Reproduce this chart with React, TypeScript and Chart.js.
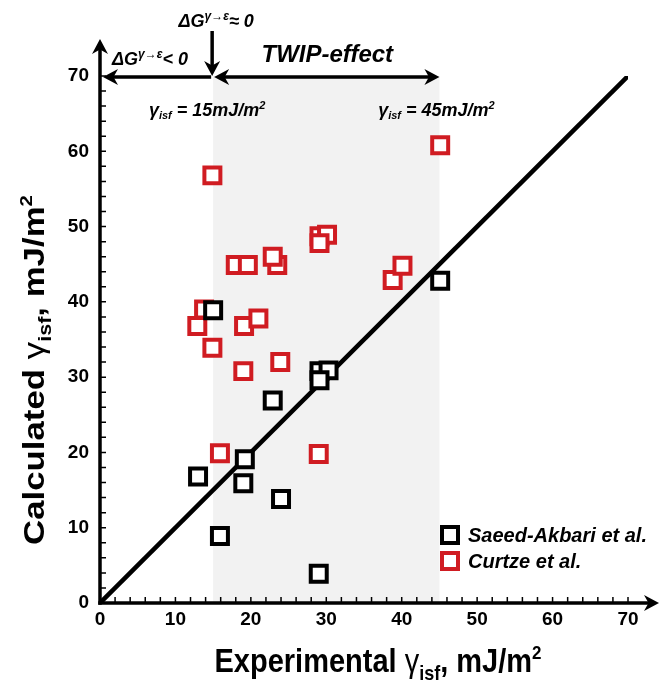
import React, { useEffect, useRef } from 'react';
import { Chart, registerables } from 'chart.js';

Chart.register(...registerables);

// ---- data ----
const seriesNames = ['Saeed-Akbari et al.', 'Curtze et al.'];
const saeedX = [15, 13, 19.2, 19, 15.9, 24, 22.9, 29.1, 30.3, 29.1, 29, 45.1];
const saeedY = [38.9, 16.8, 19.1, 15.9, 8.9, 13.8, 26.9, 30.8, 30.9, 29.6, 3.9, 42.8];
const curtzeX = [14.9, 45.1, 12.9, 13.8, 14.9, 19.1, 21, 19, 23.9, 15.9, 29, 29.1, 30.1, 29.1, 38.8, 40.1, 18, 19.6, 23.5, 22.9];
const curtzeY = [56.8, 60.8, 36.8, 39, 33.9, 36.8, 37.8, 30.8, 32, 19.9, 19.8, 48.7, 48.9, 47.8, 42.9, 44.8, 44.9, 44.9, 44.9, 46];
const idealX = [0, 70];
const idealY = [0, 70];
const axisMin = 0;
const axisMax = 70;
const majorStep = 10;
const minorStep = 2;
const twipRange = [15, 45];

const FONT = "Arial, 'Liberation Sans', Helvetica, sans-serif";
const RED = '#d01c22';

type Seg = { t: string; size: number; style: string; dy?: number };

function richWidth(ctx: CanvasRenderingContext2D, segs: Seg[]) {
  let w = 0;
  for (const s of segs) {
    ctx.font = `${s.style} ${s.size}px ${FONT}`;
    w += ctx.measureText(s.t).width;
  }
  return w;
}

function drawRich(ctx: CanvasRenderingContext2D, segs: Seg[], x: number, y: number, align: 'left' | 'center') {
  const total = richWidth(ctx, segs);
  let cx = align === 'center' ? x - total / 2 : x;
  ctx.textAlign = 'left';
  ctx.textBaseline = 'alphabetic';
  for (const s of segs) {
    ctx.font = `${s.style} ${s.size}px ${FONT}`;
    ctx.fillText(s.t, cx, y + (s.dy || 0));
    cx += ctx.measureText(s.t).width;
  }
}

function arrowHead(ctx: CanvasRenderingContext2D, x: number, y: number, angle: number, len = 15, half = 8) {
  ctx.save();
  ctx.translate(x, y);
  ctx.rotate(angle);
  ctx.beginPath();
  ctx.moveTo(0, 0);
  ctx.lineTo(-len, -half);
  ctx.lineTo(-len * 0.7, 0);
  ctx.lineTo(-len, half);
  ctx.closePath();
  ctx.fill();
  ctx.restore();
}

const decor = {
  id: 'decor',
  beforeDatasetsDraw(chart: any) {
    const ctx = chart.ctx as CanvasRenderingContext2D;
    const xs = chart.scales.x;
    const ys = chart.scales.y;
    ctx.save();
    ctx.fillStyle = '#f2f2f2';
    const x1 = xs.getPixelForValue(twipRange[0]);
    const x2 = xs.getPixelForValue(twipRange[1]);
    const yt = ys.getPixelForValue(axisMax);
    const yb = ys.getPixelForValue(axisMin);
    ctx.fillRect(x1, yt, x2 - x1, yb - yt);
    ctx.restore();
  },
  afterDatasetsDraw(chart: any) {
    const ctx = chart.ctx as CanvasRenderingContext2D;
    const xs = chart.scales.x;
    const ys = chart.scales.y;
    const x0 = xs.getPixelForValue(axisMin);
    const y0 = ys.getPixelForValue(axisMin);
    const yTop = ys.getPixelForValue(axisMax);
    ctx.save();
    ctx.strokeStyle = '#000';
    ctx.fillStyle = '#000';
    // axes
    ctx.lineWidth = 3.5;
    ctx.beginPath();
    ctx.moveTo(x0, y0 + 1.75);
    ctx.lineTo(x0, yTop - 28);
    ctx.stroke();
    arrowHead(ctx, x0, yTop - 37, -Math.PI / 2);
    ctx.beginPath();
    ctx.moveTo(x0 - 1.75, y0);
    ctx.lineTo(xs.right + 22, y0);
    ctx.stroke();
    arrowHead(ctx, xs.right + 31, y0, 0);
    // minor ticks
    ctx.lineWidth = 1.5;
    ctx.beginPath();
    for (let v = axisMin + minorStep; v <= axisMax + 0.01; v += minorStep) {
      const px = xs.getPixelForValue(v);
      ctx.moveTo(px, y0);
      ctx.lineTo(px, y0 - 6);
      const py = ys.getPixelForValue(v);
      ctx.moveTo(x0, py);
      ctx.lineTo(x0 + 6, py);
    }
    ctx.stroke();

    // annotation arrows at top
    ctx.lineWidth = 3.5;
    const xa = xs.getPixelForValue(twipRange[0]);
    const xb = xs.getPixelForValue(twipRange[1]);
    const ya = yTop + 1;
    ctx.beginPath();
    ctx.moveTo(x0 + 12, ya);
    ctx.lineTo(xa - 2, ya);
    ctx.moveTo(xa + 10, ya);
    ctx.lineTo(xb - 10, ya);
    ctx.stroke();
    arrowHead(ctx, x0 + 3, ya, Math.PI);
    arrowHead(ctx, xa + 1, ya, Math.PI);
    arrowHead(ctx, xb, ya, 0);
    ctx.beginPath();
    ctx.moveTo(xa - 1, 31);
    ctx.lineTo(xa - 1, ya - 10);
    ctx.stroke();
    arrowHead(ctx, xa - 1, ya - 1, Math.PI / 2);

    // annotation texts
    const bi = 'italic bold';
    drawRich(ctx, [
      { t: 'ΔG', size: 18, style: bi },
      { t: 'γ→ε', size: 12, style: bi, dy: -7 },
      { t: '≈ 0', size: 18, style: bi },
    ], xa + 3, 27, 'center');
    drawRich(ctx, [
      { t: 'ΔG', size: 18, style: bi },
      { t: 'γ→ε', size: 12, style: bi, dy: -7 },
      { t: '< 0', size: 18, style: bi },
    ], x0 + 12, 65, 'left');
    drawRich(ctx, [{ t: 'TWIP-effect', size: 24, style: bi }], (xa + xb) / 2 + 1, 62, 'center');
    drawRich(ctx, [
      { t: 'γ', size: 18, style: bi },
      { t: 'isf', size: 11, style: bi, dy: 3 },
      { t: ' = 15mJ/m', size: 18, style: bi },
      { t: '2', size: 11, style: bi, dy: -7 },
    ], xa - 6, 116, 'center');
    drawRich(ctx, [
      { t: 'γ', size: 18, style: bi },
      { t: 'isf', size: 11, style: bi, dy: 3 },
      { t: ' = 45mJ/m', size: 18, style: bi },
      { t: '2', size: 11, style: bi, dy: -7 },
    ], xb - 3, 116, 'center');

    // axis titles
    const titleSegs = (first: string): Seg[] => [
      { t: first + ' ', size: 29, style: 'bold' },
      { t: 'γ', size: 29, style: 'normal' },
      { t: 'isf', size: 18, style: 'bold', dy: 7 },
      { t: ', mJ/m', size: 29, style: 'bold' },
      { t: '2', size: 17, style: 'bold', dy: -12 },
    ];
    ctx.save();
    ctx.translate(378, 672);
    ctx.scale(1, 1.12);
    drawRich(ctx, titleSegs('Experimental'), 0, 0, 'center');
    ctx.restore();
    ctx.save();
    ctx.translate(44, 370);
    ctx.rotate(-Math.PI / 2);
    ctx.scale(1.2, 1);
    drawRich(ctx, titleSegs('Calculated'), 0, 0, 'center');
    ctx.restore();

    // legend
    const lx = 450;
    const ly = [535, 561];
    const cols = ['#000', RED];
    ctx.lineWidth = 4;
    for (let i = 0; i < 2; i++) {
      ctx.fillStyle = '#fff';
      ctx.strokeStyle = cols[i];
      ctx.fillRect(lx - 8, ly[i] - 8, 16, 16);
      ctx.strokeRect(lx - 8, ly[i] - 8, 16, 16);
      ctx.fillStyle = '#000';
      ctx.font = `italic bold 20px ${FONT}`;
      ctx.textAlign = 'left';
      ctx.textBaseline = 'middle';
      ctx.fillText(seriesNames[i], lx + 18, ly[i] + 1);
    }
    ctx.restore();
  },
};

export default function App() {
  const ref = useRef<HTMLCanvasElement | null>(null);
  useEffect(() => {
    if (!ref.current) return;
    const tickFont = { family: FONT, size: 19, weight: 'bold' as const };
    const chart = new Chart(ref.current, {
      type: 'scatter',
      data: {
        datasets: [
          {
            label: seriesNames[0],
            data: saeedX.map((x, i) => ({ x, y: saeedY[i] })),
            pointStyle: 'rect',
            pointRadius: 11.3,
            borderWidth: 4,
            borderColor: '#000',
            backgroundColor: '#fff',
            order: 0,
          },
          {
            label: seriesNames[1],
            data: curtzeX.map((x, i) => ({ x, y: curtzeY[i] })),
            pointStyle: 'rect',
            pointRadius: 11.3,
            borderWidth: 4,
            borderColor: RED,
            backgroundColor: '#fff',
            order: 1,
          },
          {
            type: 'line',
            label: 'y = x',
            data: idealX.map((x, i) => ({ x, y: idealY[i] })),
            showLine: true,
            borderColor: '#000',
            borderWidth: 4.5,
            pointRadius: 0,
            order: 2,
          } as any,
        ],
      },
      options: {
        animation: false,
        responsive: false,
        events: [],
        layout: { padding: { top: 76, right: 32, left: 0, bottom: 0 } },
        plugins: { legend: { display: false }, tooltip: { enabled: false } },
        scales: {
          x: {
            type: 'linear',
            min: axisMin,
            max: axisMax,
            ticks: { stepSize: majorStep, font: tickFont, color: '#000', padding: 5, maxRotation: 0 },
            grid: { display: false, drawTicks: false, tickLength: 0 },
            border: { display: false },
            afterFit: (s: any) => { s.height = 81; },
          },
          y: {
            type: 'linear',
            min: axisMin,
            max: axisMax,
            ticks: { stepSize: majorStep, font: tickFont, color: '#000', padding: 11 },
            grid: { display: false, drawTicks: false, tickLength: 0 },
            border: { display: false },
            afterFit: (s: any) => { s.width = 100; },
          },
        },
      },
      plugins: [decor],
    });
    return () => chart.destroy();
  }, []);
  return (
    <div style={{ position: 'absolute', left: 0, top: 0, width: 660, height: 684, background: '#fff' }}>
      <canvas ref={ref} width={660} height={684} style={{ display: 'block' }} />
    </div>
  );
}
